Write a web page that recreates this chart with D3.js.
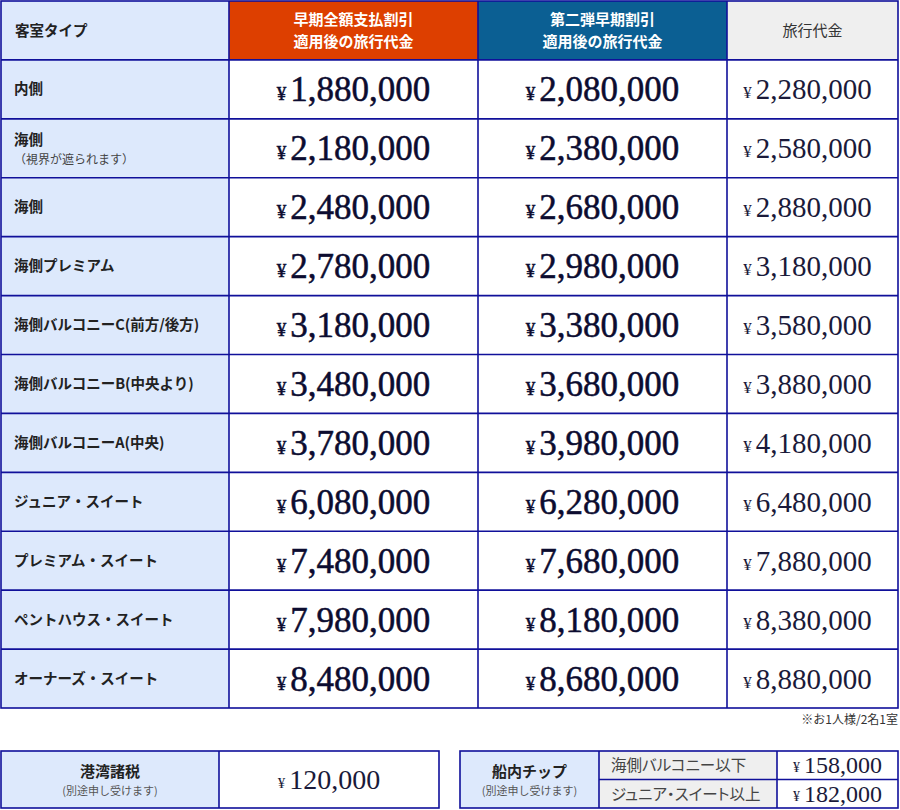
<!DOCTYPE html>
<html>
<head>
  <meta charset="utf-8">
  <script src="https://d3js.org/d3.v7.min.js"></script>
  <style>
    body { margin: 0; background: #fff; overflow: hidden; }
    .jp { font-family: "Noto Sans CJK JP", "Noto Sans", sans-serif; }
    .palt { font-feature-settings: "palt"; }
    .price { font-family: "Liberation Serif", "DejaVu Serif", serif; }
  </style>
  <title>料金表</title>
</head>
<body>
<script>
  // Data
  const cabins = ["内側", "海側", "海側", "海側プレミアム", "海側バルコニーC(前方/後方)",
    "海側バルコニーB(中央より)", "海側バルコニーA(中央)", "ジュニア・スイート",
    "プレミアム・スイート", "ペントハウス・スイート", "オーナーズ・スイート"];
  const cabinNotes = ["", "（視界が遮られます）", "", "", "", "", "", "", "", "", ""];
  const earlyFull = [1880000, 2180000, 2480000, 2780000, 3180000, 3480000, 3780000, 6080000, 7480000, 7980000, 8480000];
  const earlySecond = [2080000, 2380000, 2680000, 2980000, 3380000, 3680000, 3980000, 6280000, 7680000, 8180000, 8680000];
  const regular = [2280000, 2580000, 2880000, 3180000, 3580000, 3880000, 4180000, 6480000, 7880000, 8380000, 8880000];
  const headers = ["客室タイプ", "早期全額支払割引\n適用後の旅行代金", "第二弾早期割引\n適用後の旅行代金", "旅行代金"];
  const portTax = 120000;
  const tipLabels = ["海側バルコニー以下", "ジュニア・スイート以上"];
  const tipValues = [158000, 182000];

  const W = 900, H = 810;
  const line = "#10109a";
  const fmt = d3.format(",");

  const svg = d3.select("body").append("svg").attr("width", W).attr("height", H);

  // Column & row scales
  const colEdges = [1, 229, 478, 727, 898];
  const x = i => colEdges[i];
  const cw = i => colEdges[i + 1] - colEdges[i];
  const rowKeys = ["head"].concat(cabins.map((c, i) => i));
  const y = d3.scaleBand().domain(rowKeys).range([1, 708]);

  const headFill = ["#dde9fc", "#dd3f00", "#0b5f93", "#efefef"];
  const headColor = ["#222", "#fff", "#fff", "#333"];

  // Header cells
  const head = svg.append("g");
  headers.forEach((h, c) => {
    head.append("rect").attr("x", x(c)).attr("y", y("head")).attr("width", cw(c)).attr("height", y.bandwidth())
      .attr("fill", headFill[c]);
    const lines = h.split("\n");
    const tx0 = c === 0 ? x(c) + 14 : x(c) + cw(c) / 2;
    const t = head.append("text").attr("class", "jp")
      .attr("text-anchor", c === 0 ? "start" : "middle")
      .attr("fill", headColor[c])
      .attr("font-size", c === 0 ? 14.5 : 15)
      .attr("font-weight", c === 3 ? 400 : 600);
    lines.forEach((l, k) => {
      t.append("tspan").attr("x", tx0)
        .attr("y", y("head") + y.bandwidth() / 2 + 6 + (k - (lines.length - 1) / 2) * 22)
        .text(l);
    });
  });

  // Body rows
  const rows = svg.append("g").selectAll("g").data(cabins.map((c, i) => i)).join("g")
    .attr("transform", d => `translate(0,${y(d)})`);

  rows.append("rect").attr("x", x(0)).attr("width", cw(0)).attr("height", y.bandwidth()).attr("fill", "#dde9fc");
  rows.append("rect").attr("x", x(1)).attr("width", colEdges[4] - x(1)).attr("height", y.bandwidth()).attr("fill", "#fff");

  rows.append("text").attr("class", "jp")
    .attr("x", x(0) + 13)
    .attr("y", d => cabinNotes[d] ? y.bandwidth() / 2 - 3 : y.bandwidth() / 2 + 5)
    .attr("font-size", 14.5).attr("font-weight", 600).attr("fill", "#222")
    .text(d => cabins[d]);
  rows.filter(d => cabinNotes[d]).append("text").attr("class", "jp")
    .attr("x", x(0) + 13).attr("y", y.bandwidth() / 2 + 16)
    .attr("font-size", 12).attr("fill", "#444")
    .text(d => cabinNotes[d]);

  function price(sel, cx, cy, v, big, small, color, weight) {
    const t = sel.append("text").attr("class", "price").attr("x", cx).attr("y", cy)
      .attr("text-anchor", "middle").attr("fill", color);
    if (weight) t.attr("stroke", color).attr("stroke-width", weight);
    t.append("tspan").attr("font-size", small).attr("dy", -1).text("¥");
    t.append("tspan").attr("font-size", big).attr("dy", 1).attr("dx", 4).text(fmt(v));
    return t;
  }

  const series = [earlyFull, earlySecond, regular];
  series.forEach((s, k) => {
    const c = k + 1;
    rows.each(function (d) {
      const big = c === 3 ? 29 : 35;
      const small = c === 3 ? 17 : 19;
      price(d3.select(this), x(c) + cw(c) / 2 + (c === 3 ? -5 : 0), y.bandwidth() / 2 + (c === 3 ? 10 : 12),
        s[d], big, small, c === 3 ? "#1a1a3a" : "#0c0c30", c === 3 ? 0 : 0.5);
    });
  });

  // Grid lines
  const grid = svg.append("g").attr("stroke", line).attr("stroke-width", 1.6).attr("fill", "none");
  grid.append("rect").attr("x", 1).attr("y", 1).attr("width", 897).attr("height", 707);
  colEdges.slice(1, 4).forEach(cx => grid.append("line").attr("x1", cx).attr("x2", cx).attr("y1", 1).attr("y2", 708));
  rowKeys.slice(1).forEach(k => grid.append("line").attr("x1", 1).attr("x2", 898).attr("y1", y(k)).attr("y2", y(k)));

  // Footnote
  svg.append("text").attr("class", "jp").attr("x", 898).attr("y", 724).attr("text-anchor", "end")
    .attr("font-size", 12).attr("fill", "#333").text("※お1人様/2名1室");

  // Port tax table
  const tTop = 751, tBot = 808;
  const tax = svg.append("g");
  tax.append("rect").attr("x", 1).attr("y", tTop).attr("width", 218).attr("height", tBot - tTop).attr("fill", "#dde9fc");
  tax.append("rect").attr("x", 219).attr("y", tTop).attr("width", 220).attr("height", tBot - tTop).attr("fill", "#fff");
  tax.append("text").attr("class", "jp").attr("x", 110).attr("y", 777).attr("text-anchor", "middle")
    .attr("font-size", 15).attr("font-weight", 600).attr("fill", "#222").text("港湾諸税");
  tax.append("text").attr("class", "jp").attr("x", 110).attr("y", 795).attr("text-anchor", "middle")
    .attr("font-size", 11).attr("fill", "#555").text("(別途申し受けます)");
  price(tax, 329, 789, portTax, 28, 15, "#1a1a3a", 0);
  tax.append("rect").attr("x", 1).attr("y", tTop).attr("width", 438).attr("height", tBot - tTop)
    .attr("fill", "none").attr("stroke", line).attr("stroke-width", 1.6);
  tax.append("line").attr("x1", 219).attr("x2", 219).attr("y1", tTop).attr("y2", tBot).attr("stroke", line).attr("stroke-width", 1.6);

  // Tip table
  const tip = svg.append("g");
  const tx = [460, 599, 777, 898];
  const tipY = d3.scaleBand().domain(tipLabels).range([tTop, tBot]);
  tip.append("rect").attr("x", tx[0]).attr("y", tTop).attr("width", tx[1] - tx[0]).attr("height", tBot - tTop).attr("fill", "#dde9fc");
  tip.append("text").attr("class", "jp").attr("x", (tx[0] + tx[1]) / 2).attr("y", 777).attr("text-anchor", "middle")
    .attr("font-size", 15).attr("font-weight", 600).attr("fill", "#222").text("船内チップ");
  tip.append("text").attr("class", "jp").attr("x", (tx[0] + tx[1]) / 2).attr("y", 795).attr("text-anchor", "middle")
    .attr("font-size", 11).attr("fill", "#555").text("(別途申し受けます)");
  tipLabels.forEach((l, i) => {
    tip.append("rect").attr("x", tx[1]).attr("y", tipY(l)).attr("width", tx[2] - tx[1]).attr("height", tipY.bandwidth()).attr("fill", "#efefef");
    tip.append("rect").attr("x", tx[2]).attr("y", tipY(l)).attr("width", tx[3] - tx[2]).attr("height", tipY.bandwidth()).attr("fill", "#fff");
    tip.append("text").attr("class", "jp palt").attr("x", tx[1] + 12).attr("y", tipY(l) + tipY.bandwidth() / 2 + 6)
      .attr("font-size", 15.5).attr("fill", "#444").text(l);
    price(tip, (tx[2] + tx[3]) / 2, tipY(l) + tipY.bandwidth() / 2 + 8, tipValues[i], 24, 14, "#1a1a3a", 0);
  });
  const tg = tip.append("g").attr("stroke", line).attr("stroke-width", 1.6).attr("fill", "none");
  tg.append("rect").attr("x", tx[0]).attr("y", tTop).attr("width", tx[3] - tx[0]).attr("height", tBot - tTop);
  tx.slice(1, 3).forEach(v => tg.append("line").attr("x1", v).attr("x2", v).attr("y1", tTop).attr("y2", tBot));
  tg.append("line").attr("x1", tx[1]).attr("x2", tx[3]).attr("y1", tipY(tipLabels[1])).attr("y2", tipY(tipLabels[1]));
</script>
</body>
</html>
